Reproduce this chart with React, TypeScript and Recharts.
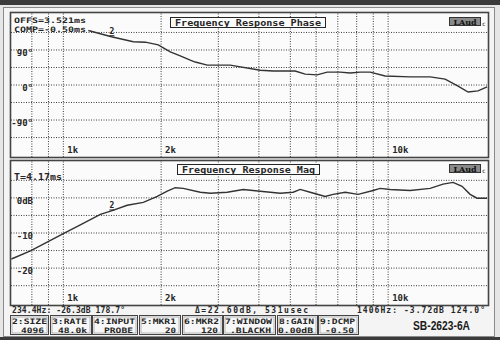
import React from 'react';
import { LineChart, Line, XAxis, YAxis, ReferenceLine, ReferenceDot } from 'recharts';

// phase curve
const phaseFreq = [1194, 1406, 1642, 1788, 1960, 2134, 2291, 2458, 2548, 2774, 3265, 4039, 4429, 5173, 5554, 6046, 6492, 7116, 7641, 8199, 8804, 9790, 11690, 13470, 14980, 16420, 17630, 18920, 20170];
const phaseDeg = [140, 124, 111, 110, 103, 85, 75, 64, 59, 51, 51, 38, 36, 36, 28, 26, 33, 33, 31, 33, 33, 23, 21, 21, 15, -3, -18, -15, -5];

// magnitude curve
const magFreq = [692, 792, 1000, 1128, 1300, 1406, 1573, 1763, 1946, 2089, 2211, 2340, 2640, 2834, 3196, 3580, 4039, 4653, 5102, 5361, 5754, 6401, 6772, 7375, 8085, 8991, 9449, 10140, 11690, 13470, 14760, 15850, 16890, 17880, 18790, 20170];
const magDb = [-17.4, -15.1, -10.2, -7.7, -4.7, -3.72, -2.1, -1.3, 0.4, 1.9, 2.9, 2.7, 1.6, 1.3, 1.6, 2.4, 1.9, 1.3, 1.6, 2.4, 1.6, 0.4, 1.0, 1.6, 1.0, 2.1, 2.7, 2.4, 2.1, 2.7, 3.9, 4.4, 3.3, 1.0, -0.1, -0.1];

const gridFreqs = [800, 900, 1000, 2000, 3000, 4000, 5000, 6000, 7000, 8000, 9000, 10000];
const freqTicks = [1000, 2000, 10000];
const freqTickLabels = ['1k', '2k', '10k'];

const phaseGrid = [135, 90, 45, 0, -45, -90, -135];
const phaseTicks = [90, 0, -90];
const phaseTickLabels = ['90°', '0°', '-90°'];

const magGrid = [5, 0, -5, -10, -15, -20, -25];
const magTicks = [0, -10, -20];
const magTickLabels = ['0dB', '-10', '-20'];

const markerFreq = 1406;
const markerPhase = 124.0;
const markerMag = -3.72;

const readouts = ['234.4Hz: -26.3dB  178.7°', 'Δ=22.60dB,  531usec', '1406Hz: -3.72dB 124.0°'];
const boxLabels = ['2:SIZE', '3:RATE', '4:INPUT', '5:MKR1', '6:MKR2', '7:WINDOW', '8:GAIN', '9:DCMP'];
const boxValues = ['4096', '48.0k', 'PROBE', '20', '120', '.BLACKH', '0.00dB', '-0.50'];

const phaseData = phaseFreq.map((f, i) => ({ f, v: phaseDeg[i] }));
const magData = magFreq.map((f, i) => ({ f, v: magDb[i] }));

const mono = "'DejaVu Sans Mono', monospace";
const ink = '#262626';
const gridInk = '#3c3c3c';

const readoutX = [12, 195, 357];
const readoutW = [113, 113, 128];
const boxX = [10, 50, 92, 139, 182, 223, 277, 318];
const boxR = [48, 91, 137, 180, 222, 275, 317, 358];

function Panel({ data, domain, grid, ticks, tickLabels, top, height, marginTop, markerY }: any) {
  return (
    <div style={{ position: 'absolute', left: 0, top }}>
      <LineChart width={500} height={height} data={data} margin={{ top: marginTop, right: 12, bottom: 5, left: 11 }}>
        <XAxis dataKey="f" type="number" scale="log" domain={[690, 20300]} hide allowDataOverflow />
        <YAxis type="number" domain={domain} hide allowDataOverflow />
        {gridFreqs.map((f) => (
          <ReferenceLine key={'v' + f} x={f} stroke={gridInk} strokeDasharray="1 1.5" />
        ))}
        {grid.map((g: number) => (
          <ReferenceLine key={'h' + g} y={g} stroke={gridInk} strokeDasharray="1 1.5" />
        ))}
        {freqTicks.map((f, i) => (
          <ReferenceLine
            key={'xl' + f}
            x={f}
            stroke="none"
            label={(p: any) => (
              <text x={p.viewBox.x + 4} y={p.viewBox.y + p.viewBox.height - 4} fontFamily={mono} fontSize={9} fontWeight="bold" fill={ink}>
                {freqTickLabels[i]}
              </text>
            )}
          />
        ))}
        {ticks.map((t: number, i: number) => (
          <ReferenceLine
            key={'yl' + t}
            y={t}
            stroke="none"
            label={(p: any) => (
              <text x={p.viewBox.x + 22} y={p.viewBox.y + 6} textAnchor="end" fontFamily={mono} fontSize={9} fontWeight="bold" fill={ink}>
                {tickLabels[i]}
              </text>
            )}
          />
        ))}
        <Line dataKey="v" type="linear" stroke="#333" strokeWidth={1.4} dot={false} isAnimationActive={false} />
        <ReferenceDot
          x={markerFreq}
          y={markerY}
          r={0}
          stroke="none"
          label={(p: any) => {
            const cx = p.viewBox.x + (p.viewBox.width || 0) / 2;
            const cy = p.viewBox.y + (p.viewBox.height || 0) / 2;
            return (
              <g>
                <text x={cx - 2} y={cy - 3} fontFamily={mono} fontSize={8} fontWeight="bold" fill={ink}>2</text>
                <line x1={cx - 2} x2={cx + 3} y1={cy - 1} y2={cy - 1} stroke={ink} strokeWidth={1} />
              </g>
            );
          }}
        />
      </LineChart>
    </div>
  );
}

export default function App() {
  return (
    <div style={{ position: 'absolute', left: 0, top: 0, width: 500, height: 340, overflow: 'hidden', background: '#ececec' }}>
      <svg width={500} height={340} style={{ position: 'absolute', left: 0, top: 0 }}>
        <rect x={0} y={0} width={500} height={340} fill="#e6e6e6" />
        <rect x={0} y={0} width={500} height={5} fill="#3b3b3b" />
        <rect x={3.5} y={7.5} width={491} height={329} fill="#f4f4f4" stroke="#8a8a8a" />
        <rect x={11} y={13} width={477} height={144} fill="#fbfbfb" />
        <rect x={11} y={161} width={477} height={144} fill="#fbfbfb" />
        <rect x={0} y={337} width={500} height={3} fill="#3b3b3b" />
      </svg>

      <Panel data={phaseData} domain={[-185, 185]} grid={phaseGrid} ticks={phaseTicks} tickLabels={phaseTickLabels} top={0} height={162} marginTop={13} markerY={markerPhase} />
      <Panel data={magData} domain={[-30.5, 10.5]} grid={magGrid} ticks={magTicks} tickLabels={magTickLabels} top={156} height={154} marginTop={5} markerY={markerMag} />

      <svg width={500} height={340} style={{ position: 'absolute', left: 0, top: 0, pointerEvents: 'none' }}>
        <rect x={10.5} y={12.5} width={478} height={145} fill="none" stroke="#444" strokeWidth={1.6} />
        <rect x={10.5} y={160.5} width={478} height={145} fill="none" stroke="#444" strokeWidth={1.6} />

        <text x={14} y={23} textLength={72} lengthAdjust="spacingAndGlyphs" fontFamily={mono} fontSize={7.5} fontWeight="bold" fill={ink}>OFFS=3.521ms</text>
        <text x={14} y={32} textLength={72} lengthAdjust="spacingAndGlyphs" fontFamily={mono} fontSize={7.5} fontWeight="bold" fill={ink}>COMP=-0.50ms</text>
        <text x={14} y={180} textLength={48} lengthAdjust="spacingAndGlyphs" fontFamily={mono} fontSize={8.5} fontWeight="bold" fill={ink}>T=4.17ms</text>

        <rect x={170.5} y={17.5} width={155} height={10} fill="#fbfbfb" stroke={ink} />
        <text x={175} y={25.5} textLength={146} lengthAdjust="spacingAndGlyphs" fontFamily={mono} fontSize={9} fontWeight="bold" fill={ink}>Frequency Response Phase</text>
        <rect x={177.5} y={164.5} width={142} height={10} fill="#fbfbfb" stroke={ink} />
        <text x={182} y={172.5} textLength={133} lengthAdjust="spacingAndGlyphs" fontFamily={mono} fontSize={9} fontWeight="bold" fill={ink}>Frequency Response Mag</text>

        {[17, 164].map((y) => (
          <g key={y}>
            <rect x={449.5} y={y + 0.5} width={31} height={8} fill="#8a8a8a" stroke="#333" />
            <text x={465} y={y + 7.5} textAnchor="middle" fontFamily="'DejaVu Serif', serif" fontSize={8} fontWeight="bold" fill="#111">LAud</text>
            <text x={482} y={y + 9} fontFamily={mono} fontSize={6} fill="#111">c</text>
          </g>
        ))}

        {readouts.map((r, i) => (
          <text key={r} x={readoutX[i]} y={313} textLength={readoutW[i]} lengthAdjust="spacing" fontFamily={mono} fontSize={8} fontWeight="bold" fill={ink}>
            {r}
          </text>
        ))}

        {boxLabels.map((l, i) => (
          <g key={l}>
            <rect x={boxX[i] + 0.5} y={315.5} width={boxR[i] - boxX[i]} height={19} fill="#f7f7f7" stroke="#444" />
            <rect x={boxX[i] + 2} y={317} width={boxR[i] - boxX[i] - 3} height={16} fill="none" stroke="#999" strokeWidth={0.7} />
            <text x={boxX[i] + 2} y={323.5} textLength={l.length * 6 - 1} lengthAdjust="spacingAndGlyphs" fontFamily={mono} fontSize={7.5} fontWeight="bold" fill={ink}>{l}</text>
            <text x={boxR[i] - 4} y={332.5} textAnchor="end" textLength={boxValues[i].length * 6 - 1} lengthAdjust="spacingAndGlyphs" fontFamily={mono} fontSize={7.5} fontWeight="bold" fill={ink}>{boxValues[i]}</text>
          </g>
        ))}

        <text x={413} y={330} textLength={57} lengthAdjust="spacingAndGlyphs" fontFamily="'Liberation Sans Narrow', 'Liberation Sans', Arial, sans-serif" fontSize={13} fontWeight="bold" fill="#1a1a1a">SB-2623-6A</text>
      </svg>
    </div>
  );
}
